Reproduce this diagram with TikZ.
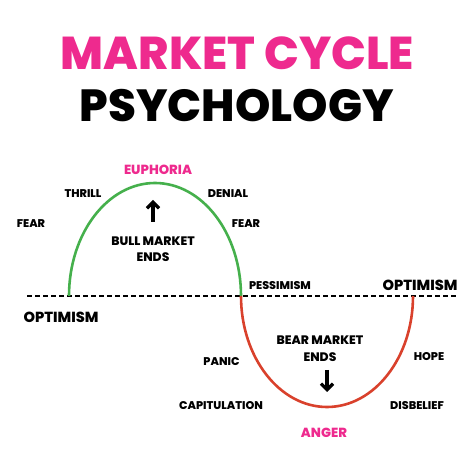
\documentclass[tikz,border=0pt]{standalone}
\usepackage{fontspec}
\setmainfont{Poppins}
\newfontfamily\heavyfont{Poppins ExtraBold}
\usetikzlibrary{arrows.meta,positioning}
\definecolor{hotpink}{HTML}{EE2A8E}
\definecolor{bullgreen}{HTML}{45B04C}
\definecolor{bearred}{HTML}{D9412C}

\begin{document}
\begin{tikzpicture}[x=1pt,y=1pt,
    mood/.style={font=\heavyfont\fontsize{11.2}{14}\selectfont},
    phase/.style={font=\heavyfont\fontsize{12.3}{16.5}\selectfont,align=center},
    bigmood/.style={font=\heavyfont\fontsize{14.6}{18}\selectfont},
    peak/.style={text=hotpink,font=\heavyfont\fontsize{13.2}{16}\selectfont},
    trend/.style={line width=3.2pt,-{Straight Barb[width=12pt,length=6pt]}}]
  \useasboundingbox (0,0) rectangle (474,474);
  % title
  \node (title1) at (237.5,420.5) {\fontsize{46}{50}\selectfont\heavyfont\color{hotpink}MARKET CYCLE};
  \node (title2) at (236.7,368.5) {\fontsize{45}{50}\selectfont\heavyfont PSYCHOLOGY};

  % zero line and the two halves of the cycle
  \coordinate (lineL) at (27,178);
  \coordinate (lineR) at (457,178);
  \coordinate (bullL) at (69,178);
  \coordinate (mid)   at (241,178);
  \draw[line width=2.8pt,dash pattern=on 5pt off 3pt] (lineL) -- (lineR);
  \draw[bullgreen,line width=2.6pt] (bullL) arc[start angle=180,end angle=0,x radius=86,y radius=113];
  \draw[bearred,line width=2.6pt] (mid) arc[start angle=180,end angle=360,x radius=86,y radius=111];

  % labels
  \node[peak]    (euphoria)  at (158,304) {EUPHORIA};
  \node[mood]    (thrill)    at (83,280)  {THRILL};
  \node[mood]    (denial)    at (228,280) {DENIAL};
  \node[mood]    (fearL)     at (31,250)  {FEAR};
  \node[mood]    (fearR)     at (246,250) {FEAR};
  \node[phase]   (bull)      at (153,225) {BULL MARKET\\ENDS};
  \node[mood]    (pessimism) at (280,188) {PESSIMISM};
  \node[bigmood] (optR)      at (420,189) {OPTIMISM};
  \node[bigmood] (optL)      at (61,157)  {OPTIMISM};
  \node[phase]   (bear)      at (320,125.5) {BEAR MARKET\\ENDS};
  \node[mood]    (panic)     at (221.5,112) {PANIC};
  \node[mood]    (hope)      at (429,117) {HOPE};
  \node[mood]    (capit)     at (221,68)  {CAPITULATION};
  \node[mood]    (disbelief) at (417,68)  {DISBELIEF};
  \node[peak]    (anger)     at (324,41)  {ANGER};

  % arrows
  \coordinate (upA) at (153,252);
  \coordinate[above=22pt of upA] (upB);
  \coordinate (dnA) at (327,104);
  \coordinate[below=22pt of dnA] (dnB);
  \draw[trend] (upA) -- (upB);
  \draw[trend] (dnA) -- (dnB);
\end{tikzpicture}
\end{document}
